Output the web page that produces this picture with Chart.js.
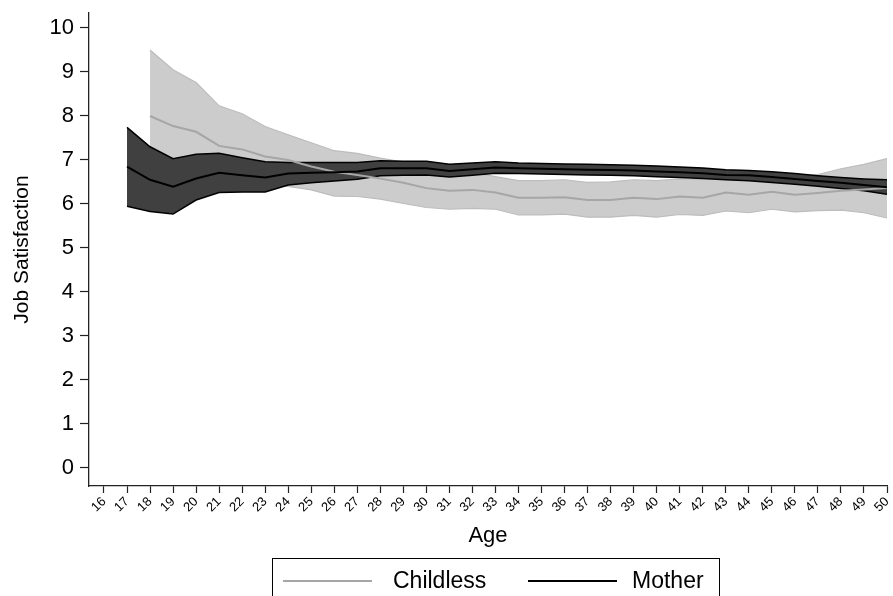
<!DOCTYPE html>
<html>
<head>
<meta charset="utf-8">
<script src="https://cdn.jsdelivr.net/npm/chart.js@4"></script>
<style>
  body { margin: 0; background: #fff; }
  #wrap { width: 893px; height: 596px; }
</style>
</head>
<body>
<div id="wrap"><canvas id="grafico"></canvas></div>
<script>
const ages = [16,17,18,19,20,21,22,23,24,25,26,27,28,29,30,31,32,33,34,35,36,37,38,39,40,41,42,43,44,45,46,47,48,49,50];
const yTicks = [0,1,2,3,4,5,6,7,8,9,10];

// Childless (sem filhos), starts at 18
const childlessMean  = [null,null,8.00,7.77,7.64,7.32,7.24,7.08,7.00,6.85,6.73,6.66,6.58,6.48,6.36,6.30,6.32,6.26,6.14,6.14,6.15,6.09,6.09,6.14,6.11,6.17,6.14,6.26,6.21,6.28,6.21,6.25,6.30,6.33,6.36];
const childlessUpper = [null,null,9.50,9.05,8.76,8.23,8.05,7.76,7.57,7.39,7.21,7.15,7.04,6.95,6.82,6.72,6.72,6.62,6.53,6.53,6.55,6.49,6.50,6.55,6.53,6.57,6.55,6.67,6.63,6.68,6.62,6.67,6.80,6.90,7.03];
const childlessLower = [null,null,6.50,6.50,6.50,6.42,6.42,6.40,6.40,6.32,6.18,6.17,6.11,6.01,5.92,5.88,5.90,5.88,5.75,5.75,5.77,5.70,5.70,5.74,5.70,5.76,5.74,5.84,5.80,5.88,5.82,5.85,5.86,5.80,5.68];

// Mother, starts at 17
const motherMean  = [null,6.85,6.55,6.39,6.58,6.71,6.65,6.60,6.69,6.71,6.72,6.74,6.81,6.81,6.81,6.75,6.79,6.83,6.81,6.80,6.79,6.78,6.77,6.76,6.74,6.72,6.70,6.66,6.65,6.61,6.57,6.52,6.48,6.43,6.38];
const motherUpper = [null,7.74,7.30,7.03,7.13,7.15,7.05,6.96,6.94,6.94,6.94,6.94,6.98,6.97,6.97,6.90,6.93,6.96,6.93,6.92,6.91,6.90,6.89,6.88,6.86,6.84,6.82,6.78,6.76,6.73,6.69,6.64,6.60,6.57,6.55];
const motherLower = [null,5.95,5.83,5.77,6.09,6.26,6.27,6.27,6.43,6.48,6.52,6.56,6.64,6.65,6.66,6.61,6.65,6.70,6.69,6.68,6.67,6.66,6.65,6.64,6.62,6.60,6.58,6.55,6.53,6.49,6.45,6.40,6.35,6.30,6.22];

const legendItems = ['Childless', 'Mother'];
const legendColors = ['#a6a6a6', '#000000'];

function pontos(valores) {
  return ages.map((a, i) => ({ x: a, y: valores[i] }));
}

Chart.defaults.font.family = "'Liberation Sans', Arial, Helvetica, sans-serif";
Chart.defaults.color = '#000';

// legenda com caixa, como no Stata
const legendaCaixa = {
  id: 'legendaCaixa',
  afterDraw(chart) {
    const ctx = chart.ctx;
    ctx.save();
    ctx.strokeStyle = '#000';
    ctx.lineWidth = 1;
    ctx.strokeRect(272.5, 558.5, 447, 60);
    const linhas = [[283, 372, 393], [528, 617, 632]];
    ctx.font = "23px 'Liberation Sans', Arial, sans-serif";
    ctx.textBaseline = 'middle';
    ctx.fillStyle = '#000';
    legendItems.forEach((txt, i) => {
      const [x0, x1, tx] = linhas[i];
      ctx.strokeStyle = legendColors[i];
      ctx.lineWidth = 2;
      ctx.beginPath();
      ctx.moveTo(x0, 581);
      ctx.lineTo(x1, 581);
      ctx.stroke();
      ctx.fillText(txt, tx, 582);
    });
    ctx.restore();
  }
};

const ctx = document.getElementById('grafico').getContext('2d');
const grafico = new Chart(ctx, {
  type: 'line',
  data: {
    datasets: [
      { label: 'Childless upper', data: pontos(childlessUpper), borderColor: '#bdbdbd', borderWidth: 1.2,
        backgroundColor: '#cccccc', fill: 1, order: 5 },
      { label: 'Childless lower', data: pontos(childlessLower), borderColor: '#bdbdbd', borderWidth: 1.2,
        fill: false, order: 4 },
      { label: 'Mother upper', data: pontos(motherUpper), borderColor: '#000', borderWidth: 1.5,
        backgroundColor: '#404040', fill: 3, order: 3 },
      { label: 'Mother lower', data: pontos(motherLower), borderColor: '#000', borderWidth: 1.5,
        fill: false, order: 2 },
      { label: 'Childless', data: pontos(childlessMean), borderColor: '#a6a6a6', borderWidth: 2,
        fill: false, order: 1 },
      { label: 'Mother', data: pontos(motherMean), borderColor: '#000', borderWidth: 2,
        fill: false, order: 0 }
    ]
  },
  options: {
    responsive: true,
    maintainAspectRatio: false,
    animation: false,
    elements: { point: { radius: 0 }, line: { tension: 0 } },
    layout: { padding: { left: 0, top: 13, right: 6, bottom: 46 } },
    plugins: {
      legend: { display: false },
      tooltip: { enabled: false }
    },
    scales: {
      x: {
        type: 'linear',
        min: 15.35,
        max: 50,
        afterBuildTicks: axis => { axis.ticks = ages.map(v => ({ value: v })); },
        afterFit: s => { s.height = 64; s.paddingLeft = 0; s.paddingRight = 0; },
        ticks: { autoSkip: false, minRotation: 45, maxRotation: 45, padding: 1, font: { size: 13 } },
        grid: { drawOnChartArea: false, drawTicks: true, tickLength: 7, color: '#222', tickWidth: 1.2 },
        border: { display: true, color: '#222', width: 1.3 },
        title: { display: true, text: 'Age', font: { size: 22 }, padding: { top: 0, bottom: 1 } }
      },
      y: {
        min: -0.41,
        max: 10.34,
        afterBuildTicks: axis => { axis.ticks = yTicks.map(v => ({ value: v })); },
        afterFit: s => { s.width = 89; s.paddingTop = 0; s.paddingBottom = 0; },
        ticks: { padding: 6, font: { size: 22 } },
        grid: { drawOnChartArea: false, drawTicks: true, tickLength: 9, color: '#222', tickWidth: 1.2 },
        border: { display: true, color: '#222', width: 1.3 },
        title: { display: true, text: 'Job Satisfaction', font: { size: 21 }, padding: { top: 10, bottom: 0 } }
      }
    }
  },
  plugins: [legendaCaixa]
});
</script>
</body>
</html>
